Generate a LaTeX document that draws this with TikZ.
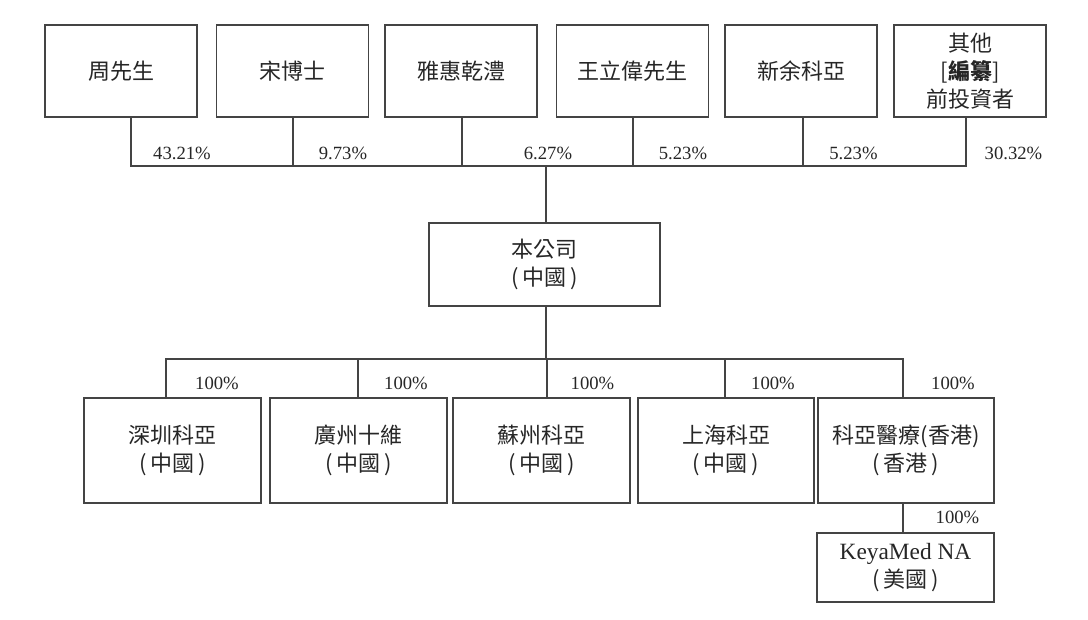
\documentclass[tikz,border=0pt]{standalone}
\usepackage{fontspec}
\setmainfont{Liberation Serif}
\newfontfamily\cjk{Noto Sans CJK TC}
\definecolor{lineclr}{HTML}{444444}
\definecolor{txtclr}{HTML}{262626}
\tikzset{
  box/.style={draw=lineclr, line width=0.9pt, rectangle, inner sep=0pt, align=center,
    text=txtclr, font=\cjk\fontsize{16.5}{21}\selectfont},
  topbox/.style={box, minimum width=152*0.75pt, minimum height=92*0.75pt},
  subbox/.style={box, minimum width=176*0.75pt, minimum height=105*0.75pt},
  pct/.style={text=txtclr, inner sep=0pt, font=\fontsize{14}{16}\selectfont},
  link/.style={draw=lineclr, line width=0.9pt},
}
\begin{document}
\begin{tikzpicture}[x=0.75pt,y=-0.75pt]
\useasboundingbox (0,0) rectangle (1088,620);
% top shareholders
\node[topbox] (p1) at (121,71) {周先生};
\node[topbox] (p2) at (292.5,71) {宋博士};
\node[topbox] (p3) at (461,71) {雅惠乾澧};
\node[topbox] (p4) at (632.5,71) {王立偉先生};
\node[topbox] (p5) at (801,71) {新余科亞};
\node[topbox] (p6) at (970,71) {其他\\{}[\textbf{編纂}]\\前投資者};
% upper bus
\coordinate (b1) at (131,166);
\coordinate (b2) at (293,166);
\coordinate (b3) at (462,166);
\coordinate (b4) at (633,166);
\coordinate (b5) at (803,166);
\coordinate (b6) at (966,166);
\coordinate (bt) at (546,166);
\draw[link] (p1.south -| b1) -- (b1) -- (b6) -- (p6.south -| b6);
\draw[link] (p2.south -| b2) -- (b2);
\draw[link] (p3.south -| b3) -- (b3);
\draw[link] (p4.south -| b4) -- (b4);
\draw[link] (p5.south -| b5) -- (b5);
\node[pct] (l1) at (182,153) {43.21\%};
\node[pct] (l2) at (343,153) {9.73\%};
\node[pct] (l3) at (548,153) {6.27\%};
\node[pct] (l4) at (683,153) {5.23\%};
\node[pct] (l5) at (853.5,153) {5.23\%};
\node[pct] (l6) at (1013.5,153) {30.32\%};
% company
\node[box, minimum width=231*0.75pt, minimum height=83*0.75pt] (co) at (544.5,264.5) {本公司\\(\,中國\,)};
\draw[link] (bt) -- (co.north -| bt);
% lower bus
\coordinate (c1) at (166,359);
\coordinate (c2) at (358,359);
\coordinate (c3) at (547,359);
\coordinate (c4) at (725,359);
\coordinate (c5) at (903,359);
\coordinate (cm) at (546,359);
\draw[link] (co.south -| cm) -- (cm);
% subsidiaries
\node[subbox, minimum width=177*0.75pt] (s1) at (172.5,450.5) {深圳科亞\\(\,中國\,)};
\node[subbox, minimum width=177*0.75pt] (s2) at (358.5,450.5) {廣州十維\\(\,中國\,)};
\node[subbox, minimum width=177*0.75pt] (s3) at (541.5,450.5) {蘇州科亞\\(\,中國\,)};
\node[subbox, minimum width=176*0.75pt] (s4) at (726,450.5) {上海科亞\\(\,中國\,)};
\node[subbox, minimum width=176*0.75pt] (s5) at (906,450.5) {科亞醫療(香港)\\(\,香港\,)};
\draw[link] (s1.north -| c1) -- (c1) -- (c5) -- (s5.north -| c5);
\draw[link] (s2.north -| c2) -- (c2);
\draw[link] (s3.north -| c3) -- (c3);
\draw[link] (s4.north -| c4) -- (c4);
\node[pct] (m1) at (217,383.5) {100\%};
\node[pct] (m2) at (406,383.5) {100\%};
\node[pct] (m3) at (592.5,383.5) {100\%};
\node[pct] (m4) at (773,383.5) {100\%};
\node[pct] (m5) at (953,383.5) {100\%};
% KeyaMed NA
\node[box, minimum width=177*0.75pt, minimum height=69*0.75pt] (k) at (905.5,567.5) {{\rmfamily\fontsize{17.5}{21}\selectfont KeyaMed NA}\\(\,美國\,)};
\coordinate (kt) at (903,502);
\draw[link] (s5.south -| kt) -- (k.north -| kt);
\node[pct] (m6) at (957.5,517) {100\%};
\end{tikzpicture}
\end{document}
